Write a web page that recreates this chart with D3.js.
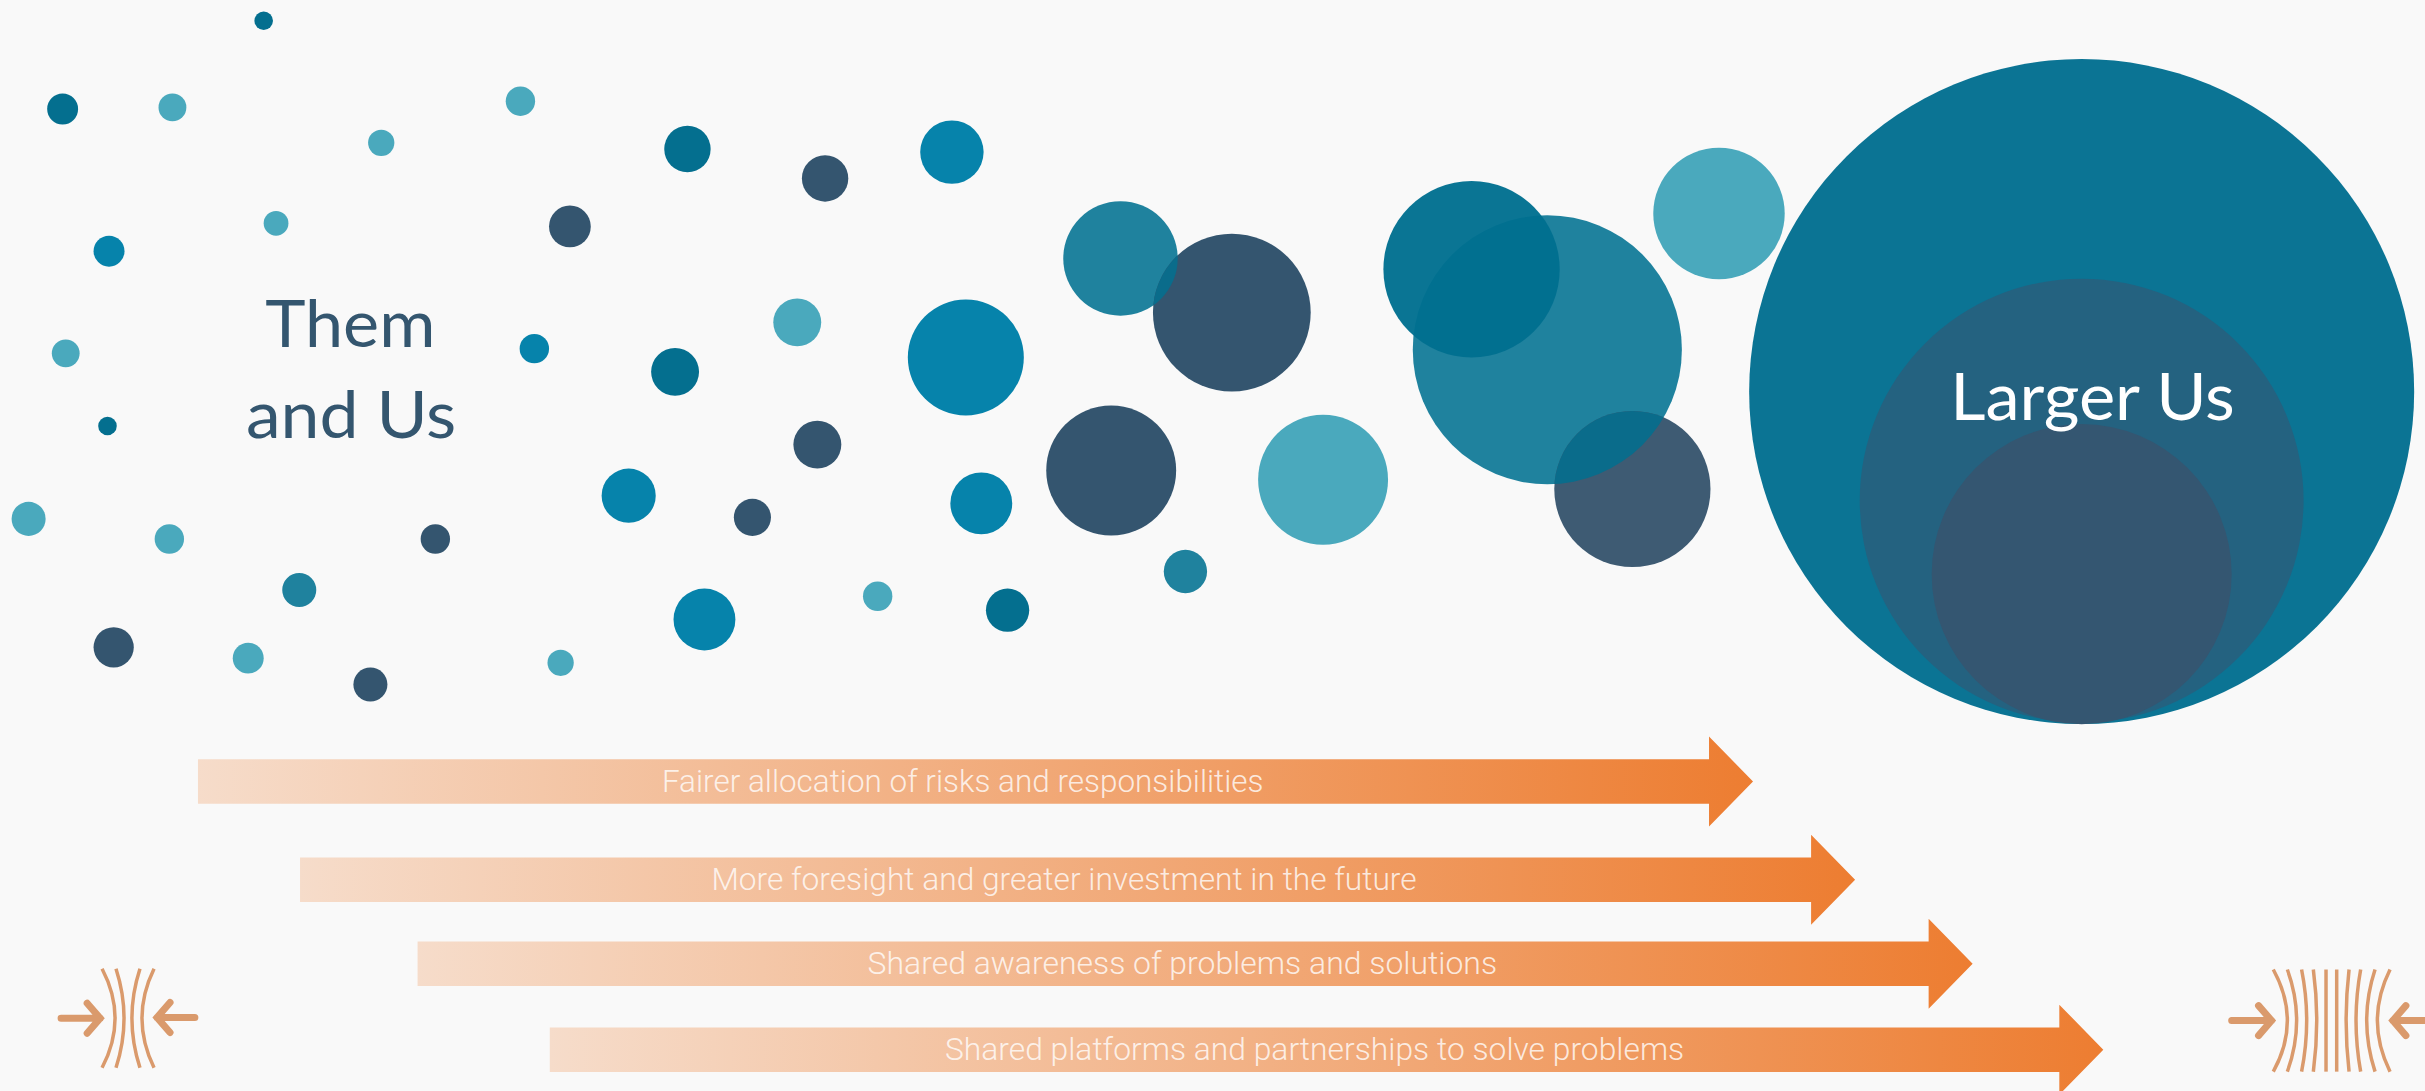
<!DOCTYPE html>
<html>
<head>
<meta charset="utf-8">
<script src="https://cdn.jsdelivr.net/npm/d3@7"></script>
<style>
  html, body { margin: 0; padding: 0; background: #f9f9f9; overflow: hidden; }
  svg { display: block; }
</style>
</head>
<body>
<svg id="chart" width="2425" height="1091"></svg>
<script>
// bubbles (units: 1568 x 705 board)
const bubbleX = [170.5, 40.5, 111.5, 246.5, 336.5, 178.5, 70.5, 42.5, 69.5, 18.5, 109.5, 281.5, 193.5, 73.5, 160.5, 239.5, 362.5, 345.5, 368.5, 444.5, 533.5, 615.5, 515.5, 436.5, 528.5, 406.5, 486.5, 455.5, 567.5, 651.5, 634.5, 766.5, 624.5, 724.5, 796.5, 718.5, 855.5, 1111.5, 1000.5, 951.5, 1055.5, 1346, 1346, 1346];
const bubbleY = [13.4, 70.4, 69.4, 92.3, 65.4, 144.3, 162.3, 228.3, 275.3, 335.3, 348.3, 348.3, 381.3, 418.3, 425.3, 442.3, 428.3, 225.3, 146.3, 96.3, 115.3, 98.3, 208.3, 240.3, 287.3, 320.3, 334.3, 400.3, 385.3, 394.3, 325.3, 369.3, 231, 167, 202, 304, 310, 138, 226, 174, 316, 253, 323.5, 371];
const bubbleR = [6, 10, 9, 8.5, 9.5, 8, 10, 9, 6, 11, 9.5, 9.5, 11, 13, 10, 11, 8.5, 9.5, 13.5, 15, 15, 20.5, 15.5, 15.5, 15.5, 17.5, 12, 20, 9.5, 14, 20, 14, 37.5, 37, 51, 42, 42, 42.5, 87, 57, 50.5, 215, 143.5, 97];
const bubbleTone = ['deep', 'deep', 'light', 'light', 'light', 'light', 'blue', 'light', 'deep', 'light', 'light', 'navy', 'mid', 'navy', 'light', 'navy', 'light', 'blue', 'navy', 'deep', 'navy', 'blue', 'light', 'deep', 'navy', 'blue', 'navy', 'blue', 'light', 'deep', 'blue', 'mid', 'blue', 'mid', 'navy', 'navy', 'light', 'light', 'mid', 'overlay', 'slate', 'big', 'inner', 'core'];

const toneKeys = ['deep', 'blue', 'light', 'mid', 'navy', 'overlay', 'slate', 'big', 'inner', 'core'];
const toneColors = ['#046f8f', '#0683ab', '#4aa9bd', '#1f829e', '#34556f', '#006f90', '#3e5b73', '#0b7494', '#246280', '#345671'];
const toneAlpha = [1, 1, 1, 1, 1, 0.96, 1, 1, 1, 1];

// pairs of bubbles whose shared part shows darker teal
const overlapUnder = [33, 38];
const overlapOver = [34, 40];

// arrows
const arrowLabels = [
  'Fairer allocation of risks and responsibilities',
  'More foresight and greater investment in the future',
  'Shared awareness of problems and solutions',
  'Shared platforms and partnerships to solve problems'
];
const arrowStart = [128, 194, 270, 355.5];
const arrowTip = [1133.5, 1199.5, 1275.5, 1360];
const arrowY = [505, 568.5, 622.8, 678.3];
const labelCentre = [622.5, 688, 764.5, 850];
const labelWidth = [389, 456, 407, 478];

// squeeze icons: end and middle x of each curved line
const leftEnds = [66, 75, 90.5, 99.6];
const leftMids = [74.4, 80.2, 85.3, 91.8];
const rightEnds = [1469.9, 1479, 1488.2, 1495.8, 1504, 1510.9, 1518.9, 1526.4, 1535.7, 1545.4];
const rightMids = [1479, 1485, 1491.5, 1498, 1504, 1510.9, 1517, 1523.4, 1530.3, 1537.2];
const iconArrowFrom = [39.5, 126, 1443, 1570];
const iconArrowTip = [68, 98.3, 1472, 1544];
const iconArrowY = [658, 657.5, 659.5, 659.5];

const svg = d3.select('#chart');
const width = +svg.attr('width');
const height = +svg.attr('height');

const x = d3.scaleLinear().domain([0, 1568]).range([0, width]);
const y = d3.scaleLinear().domain([0, 705]).range([0, height]);
const tone = d3.scaleOrdinal().domain(toneKeys).range(toneColors);
const alpha = d3.scaleOrdinal().domain(toneKeys).range(toneAlpha);

svg.append('rect')
  .attr('width', width)
  .attr('height', height)
  .attr('fill', '#f9f9f9');

const defs = svg.append('defs');

// bubbles
svg.append('g')
  .selectAll('circle')
  .data(d3.range(bubbleX.length))
  .join('circle')
    .attr('cx', i => x(bubbleX[i]))
    .attr('cy', i => y(bubbleY[i]))
    .attr('r', i => x(bubbleR[i]))
    .attr('fill', i => tone(bubbleTone[i]))
    .attr('fill-opacity', i => alpha(bubbleTone[i]));

overlapUnder.forEach((under, k) => {
  defs.append('clipPath')
    .attr('id', 'under' + k)
    .append('circle')
      .attr('cx', x(bubbleX[under]))
      .attr('cy', y(bubbleY[under]))
      .attr('r', x(bubbleR[under]));
  svg.append('circle')
    .attr('cx', x(bubbleX[overlapOver[k]]))
    .attr('cy', y(bubbleY[overlapOver[k]]))
    .attr('r', x(bubbleR[overlapOver[k]]))
    .attr('clip-path', 'url(#under' + k + ')')
    .attr('fill', '#0a6c8b');
});

// arrows
const grad = defs.append('linearGradient').attr('id', 'fade');
grad.append('stop').attr('offset', '0%').attr('stop-color', '#f6dcca');
grad.append('stop').attr('offset', '100%').attr('stop-color', '#ed7d31');

const shaft = 22.3; // half height, px
const head = 45;
const headLen = 44;

const arrows = svg.append('g')
  .selectAll('g')
  .data(d3.range(arrowLabels.length))
  .join('g');

arrows.append('path')
  .attr('fill', 'url(#fade)')
  .attr('d', i => {
    const x0 = x(arrowStart[i]);
    const x1 = x(arrowTip[i]);
    const yc = y(arrowY[i]);
    const p = d3.path();
    p.moveTo(x0, yc - shaft);
    p.lineTo(x1 - headLen, yc - shaft);
    p.lineTo(x1 - headLen, yc - head);
    p.lineTo(x1, yc);
    p.lineTo(x1 - headLen, yc + head);
    p.lineTo(x1 - headLen, yc + shaft);
    p.lineTo(x0, yc + shaft);
    p.closePath();
    return p.toString();
  });

arrows.append('text')
  .attr('x', i => x(labelCentre[i]))
  .attr('y', i => y(arrowY[i]) + 10.5)
  .attr('text-anchor', 'middle')
  .attr('font-family', 'Roboto')
  .attr('font-weight', 300)
  .attr('font-size', 31)
  .attr('textLength', i => x(labelWidth[i]))
  .attr('lengthAdjust', 'spacingAndGlyphs')
  .attr('fill', '#fff')
  .attr('fill-opacity', 0.8)
  .text(i => arrowLabels[i]);

// headings, fitted to their measured widths
const heading = (txt, cx, base, w, color) => svg.append('text')
  .attr('x', x(cx))
  .attr('y', base)
  .attr('text-anchor', 'middle')
  .attr('font-family', 'Lato')
  .attr('font-size', 66)
  .attr('textLength', x(w))
  .attr('lengthAdjust', 'spacingAndGlyphs')
  .attr('fill', color)
  .text(txt);

heading('Them', 226.5, 347, 110, '#34566f');
heading('and Us', 227, 438, 136, '#34566f');
heading('Larger Us', 1353, 420, 184, '#fff');

// squeeze icons
const iconColor = '#da9a6c';
const icons = svg.append('g').attr('fill', 'none').attr('stroke', iconColor);

const addCurves = (ends, mids, top, bottom) => {
  icons.append('g')
    .attr('stroke-width', 3.5)
    .selectAll('path')
    .data(d3.range(ends.length))
    .join('path')
      .attr('d', i => {
        const p = d3.path();
        p.moveTo(x(ends[i]), y(top));
        p.quadraticCurveTo(x(2 * mids[i] - ends[i]), y((top + bottom) / 2), x(ends[i]), y(bottom));
        return p.toString();
      });
};
addCurves(leftEnds, leftMids, 626, 690);
addCurves(rightEnds, rightMids, 626.5, 692.5);

icons.append('g')
  .attr('stroke-width', 7)
  .attr('stroke-linejoin', 'miter')
  .attr('stroke-linecap', 'round')
  .selectAll('path')
  .data(d3.range(iconArrowFrom.length))
  .join('path')
    .attr('d', i => {
      const x0 = x(iconArrowFrom[i]);
      const tip = x(iconArrowTip[i]);
      const yc = y(iconArrowY[i]);
      const dir = tip > x0 ? 1 : -1;
      const p = d3.path();
      p.moveTo(x0, yc);
      p.lineTo(tip - dir * 5, yc);
      p.moveTo(tip - dir * 18, yc - 15);
      p.lineTo(tip - dir * 5, yc);
      p.lineTo(tip - dir * 18, yc + 15);
      return p.toString();
    });
</script>
</body>
</html>
